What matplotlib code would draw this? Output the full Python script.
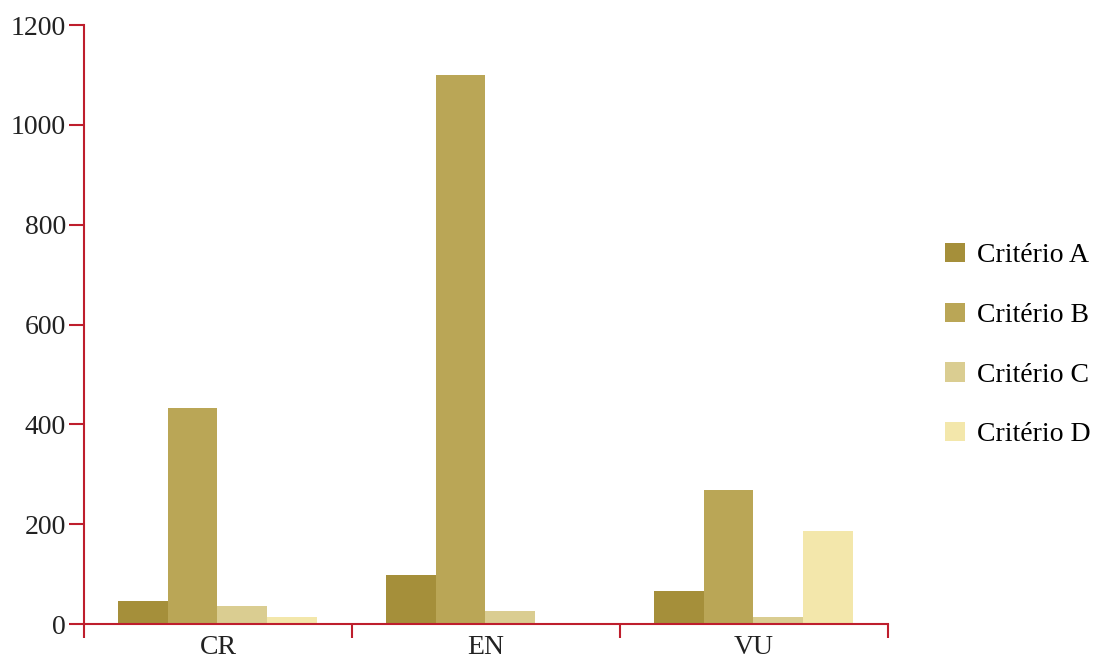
import matplotlib
matplotlib.use("Agg")
import matplotlib.pyplot as plt
import numpy as np

categories = ["CR", "EN", "VU"]
series_names = ["Critério A", "Critério B", "Critério C", "Critério D"]
crit_a = [47, 99, 67]
crit_b = [433, 1100, 269]
crit_c = [37, 27, 15]
crit_d = [15, 3, 187]
colors = ["#a58f3a", "#baa656", "#dacd91", "#f3e7ab"]
yticks = [0, 200, 400, 600, 800, 1000, 1200]

plt.rcParams['font.family'] = ['Liberation Serif', 'DejaVu Serif']

fig = plt.figure(figsize=(11.02, 6.60), dpi=100)
ax = fig.add_axes([0.0762, 0.0545, 0.7296, 0.9075])

values = [crit_a, crit_b, crit_c, crit_d]
x = np.arange(len(categories))
bw = 0.185
for i, (vals, name, col) in enumerate(zip(values, series_names, colors)):
    ax.bar(x + (i - 1.5) * bw - 0.002, vals, width=bw, color=col, label=name, linewidth=0)

red = "#be1e2d"
ax.set_xlim(-0.5, len(categories) - 0.5)
ax.set_ylim(0, 1200)
ax.set_yticks(yticks)
ax.set_yticklabels([str(t) for t in yticks], fontsize=20, color="#222222")
ax.set_xticks(x)
ax.set_xticklabels(categories, fontsize=20, color="#222222")
ax.tick_params(axis='x', length=0, pad=8)
ax.set_xticks(np.arange(len(categories) + 1) - 0.5, minor=True)
ax.tick_params(axis='x', which='minor', length=10, width=1.5, color=red)
ax.tick_params(axis='y', length=11, width=1.5, color=red, pad=2)
for s in ['top', 'right']:
    ax.spines[s].set_visible(False)
for s in ['left', 'bottom']:
    ax.spines[s].set_color(red)
    ax.spines[s].set_linewidth(1.5)

handles, labels = ax.get_legend_handles_labels()
fig.legend(handles, labels, loc='center left', bbox_to_anchor=(0.845, 0.477),
           frameon=False, fontsize=20, handlelength=0.7, handleheight=0.7,
           labelspacing=1.23, handletextpad=0.45, borderpad=0)

fig.savefig("out.png", dpi=100)
